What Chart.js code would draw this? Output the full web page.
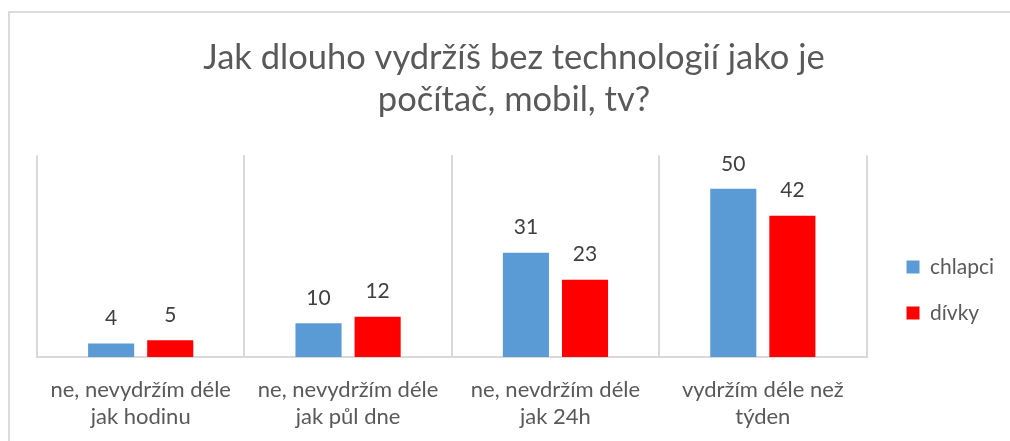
<!DOCTYPE html>
<html>
<head>
<meta charset="utf-8">
<script src="https://cdn.jsdelivr.net/npm/chart.js@4"></script>
<style>
  html, body { margin: 0; padding: 0; background: #ffffff; }
  #wrap { position: relative; width: 1010px; height: 441px; overflow: hidden; }
  #frame { position: absolute; left: 8px; top: 11px; width: 1100px; height: 500px;
           border-left: 2px solid #dcdcdc; border-top: 2px solid #dcdcdc; }
  canvas { position: absolute; left: 0; top: 0; }
</style>
</head>
<body>
<div id="wrap">
  <div id="frame"></div>
  <canvas id="c" width="1010" height="441"></canvas>
</div>
<script>
const titleLines = ['Jak dlouho vydržíš bez technologií jako je', 'počítač, mobil, tv?'];
const categories = [
  ['ne, nevydržím déle', 'jak hodinu'],
  ['ne, nevydržím déle', 'jak půl dne'],
  ['ne, nevdržím déle', 'jak 24h'],
  ['vydržím déle než', 'týden']
];
const seriesNames = ['chlapci', 'dívky'];
const chlapci = [4, 10, 31, 50];
const divky = [5, 12, 23, 42];
const yMin = 0, yMax = 60;

const FONT = 'Lato, "Open Sans", sans-serif';

const dataLabels = {
  id: 'dataLabels',
  afterDatasetsDraw(chart) {
    const ctx = chart.ctx;
    ctx.save();
    ctx.font = '21px ' + FONT;
    ctx.fillStyle = '#404040';
    ctx.textAlign = 'center';
    ctx.textBaseline = 'middle';
    chart.data.datasets.forEach((ds, di) => {
      const meta = chart.getDatasetMeta(di);
      meta.data.forEach((bar, i) => {
        ctx.fillText(String(ds.data[i]), bar.x, bar.y - 25);
      });
    });
    ctx.restore();
  }
};

new Chart(document.getElementById('c'), {
  type: 'bar',
  data: {
    labels: categories,
    datasets: [
      { label: seriesNames[0], data: chlapci, backgroundColor: '#5B9BD5', borderWidth: 0 },
      { label: seriesNames[1], data: divky, backgroundColor: '#FF0000', borderWidth: 0 }
    ]
  },
  options: {
    responsive: false,
    animation: false,
    devicePixelRatio: 1,
    layout: { padding: { left: 24, right: 6, top: 0, bottom: 0 } },
    datasets: { bar: { categoryPercentage: 0.57, barPercentage: 0.78 } },
    scales: {
      x: {
        grid: { display: true, offset: true, color: '#d9d9d9', lineWidth: 2, drawTicks: false },
        border: { display: true, color: '#d9d9d9', width: 2 },
        ticks: { color: '#595959', font: { family: FONT, size: 22, lineHeight: 1.23 }, padding: 19, maxRotation: 0, autoSkip: false },
        afterFit(axis) { axis.height = 84; }
      },
      y: {
        position: 'right',
        min: yMin, max: yMax,
        grid: { display: false },
        border: { display: false },
        ticks: { display: false },
        afterFit(axis) { axis.width = 15; }
      },
      yLeft: {
        type: 'linear',
        position: 'left',
        min: yMin, max: yMax,
        grid: { display: false },
        border: { display: false },
        ticks: { display: false },
        afterFit(axis) { axis.width = 13; }
      }
    },
    plugins: {
      title: {
        display: true,
        text: titleLines,
        color: '#595959',
        font: { family: FONT, size: 34.5, weight: 'normal', lineHeight: 1.22 },
        padding: { top: 37, bottom: 34 }
      },
      legend: {
        display: true,
        position: 'right',
        title: { display: true, text: '', font: { size: 10, lineHeight: 1 }, padding: { top: 129, bottom: 0 } },
        labels: {
          color: '#595959',
          font: { family: FONT, size: 21 },
          boxWidth: 13, boxHeight: 13,
          padding: 25
        }
      },
      tooltip: { enabled: false }
    }
  },
  plugins: [dataLabels]
});
</script>
</body>
</html>
